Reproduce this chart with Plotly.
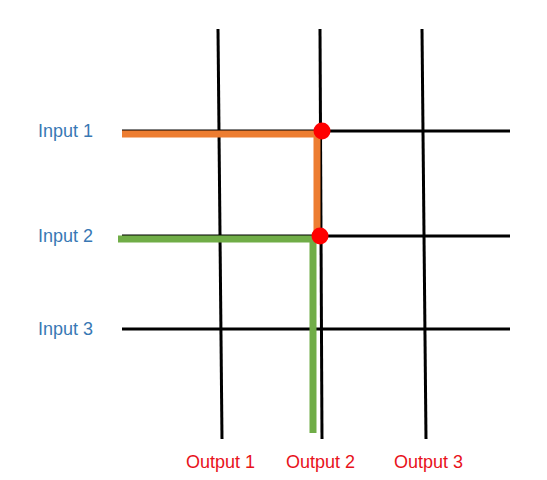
import plotly.graph_objects as go

# grid in image pixel coordinates
col_x_top = [218, 320, 422]
col_x_bot = [222, 322, 426]
col_y = [28, 438]
row_y_left = [130, 235, 328]
row_y_right = [130, 235, 328]
row_x = [122, 510]

input_labels = ['Input 1', 'Input 2', 'Input 3']
output_labels = ['Output 1', 'Output 2', 'Output 3']
output_label_x = [220, 320, 428]

orange_x = [122, 317, 317]
orange_y = [133, 133, 237]
green_x = [118, 313, 313]
green_y = [238, 238, 432]
dot_x = [322, 320]
dot_y = [130, 235]

fig = go.Figure()
for xt, xb in zip(col_x_top, col_x_bot):
    fig.add_trace(go.Scatter(x=[xt, xb], y=col_y, mode='lines',
                             line=dict(color='black', width=3), hoverinfo='skip'))
for yl, yr in zip(row_y_left, row_y_right):
    fig.add_trace(go.Scatter(x=row_x, y=[yl, yr], mode='lines',
                             line=dict(color='black', width=3), hoverinfo='skip'))
fig.add_trace(go.Scatter(x=orange_x, y=orange_y, mode='lines',
                         line=dict(color='#ED7D31', width=7)))
fig.add_trace(go.Scatter(x=green_x, y=green_y, mode='lines',
                         line=dict(color='#70AD47', width=7)))
fig.add_trace(go.Scatter(x=dot_x, y=dot_y, mode='markers',
                         marker=dict(color='red', size=17)))

for lab, y in zip(input_labels, row_y_left):
    fig.add_annotation(x=65, y=y, text=lab, showarrow=False,
                       font=dict(family='Liberation Sans', size=18, color='#3878B4'))
for lab, x in zip(output_labels, output_label_x):
    fig.add_annotation(x=x, y=461, text=lab, showarrow=False,
                       font=dict(family='Liberation Sans', size=18, color='#E8121B'))

# page body adds an offset of ~8px, so shift the ranges to compensate
fig.update_xaxes(range=[8, 555], visible=False)
fig.update_yaxes(range=[487, 7], visible=False)
fig.update_layout(width=547, height=480, margin=dict(l=0, r=0, t=0, b=0),
                  showlegend=False, plot_bgcolor='white', paper_bgcolor='white')
fig.write_html("out.html")
